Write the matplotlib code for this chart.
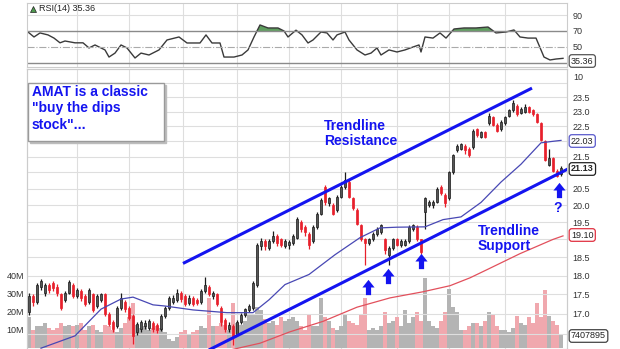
import numpy as np
import matplotlib
matplotlib.use("Agg")
import matplotlib.pyplot as plt
from matplotlib.patches import Rectangle
from matplotlib.ticker import FixedLocator, NullLocator, FuncFormatter

plt.rcParams['font.family'] = ['Liberation Sans', 'DejaVu Sans']

# daily candles (price in $), one per trading day
opens = [17.05, 17.45, 17.30, 17.70, 17.55, 17.75, 17.80, 17.70, 17.50, 17.35,
         17.55, 17.75, 17.45, 17.60, 17.45, 17.30, 17.50, 17.20, 17.35, 17.50,
         17.00, 16.80, 16.70, 17.15, 17.30, 17.15, 16.95, 16.55, 16.62, 16.70,
         16.65, 16.78, 16.72, 16.62, 16.95, 17.15, 17.30, 17.35, 17.55, 17.45,
         17.28, 17.40, 17.35, 17.30, 17.60, 17.70, 17.45, 17.50, 17.15, 16.85,
         16.62, 16.70, 16.50, 16.80, 16.98, 17.10, 17.15, 17.75, 18.80, 18.95,
         18.75, 18.95, 19.10, 19.00, 18.82, 18.85, 18.90, 19.05, 19.50, 19.35,
         19.15, 18.95, 19.35, 19.75, 20.55, 20.05, 20.00, 19.85, 20.25, 20.55,
         20.70, 20.20, 19.85, 19.40, 19.00, 18.90, 19.00, 19.15, 19.20, 19.00,
         18.55, 18.75, 19.00, 18.85, 18.85, 18.95, 19.30, 19.35, 19.00, 19.80,
         20.00, 20.00, 20.10, 20.55, 20.30, 20.20, 21.00, 21.70, 21.75, 21.85,
         21.75, 21.80, 22.40, 22.15, 22.30, 22.60, 22.80, 22.55, 22.40, 22.60,
         22.85, 23.05, 23.20, 22.95, 23.00, 23.15, 23.05, 22.90, 22.60, 22.00,
         21.25, 21.45, 21.05, 20.95]
closes = [17.45, 17.30, 17.75, 17.85, 17.75, 17.62, 17.68, 17.55, 17.15, 17.55,
          17.82, 17.45, 17.62, 17.40, 17.25, 17.62, 17.10, 17.45, 17.50, 17.00,
          16.75, 16.62, 17.15, 17.40, 17.12, 16.90, 16.45, 16.75, 16.80, 16.78,
          16.82, 16.62, 16.60, 16.95, 17.15, 17.40, 17.42, 17.55, 17.38, 17.25,
          17.42, 17.25, 17.28, 17.60, 17.75, 17.50, 17.55, 17.25, 16.80, 16.62,
          16.72, 16.45, 16.80, 16.98, 17.12, 17.20, 17.80, 18.85, 18.95, 18.80,
          18.95, 19.10, 18.90, 18.85, 18.95, 18.92, 19.10, 19.60, 19.30, 19.20,
          18.85, 19.35, 19.75, 20.15, 20.10, 20.20, 19.75, 20.25, 20.55, 20.75,
          20.25, 19.90, 19.45, 19.00, 18.90, 19.00, 19.15, 19.30, 19.40, 18.70,
          18.75, 19.00, 18.85, 18.95, 18.95, 19.35, 19.40, 19.00, 18.65, 20.20,
          20.10, 20.10, 20.50, 20.35, 20.05, 21.00, 21.55, 21.85, 21.90, 21.70,
          21.55, 22.35, 22.20, 22.30, 22.15, 22.85, 22.55, 22.35, 22.65, 22.80,
          23.05, 23.30, 22.90, 23.10, 23.15, 23.00, 22.90, 22.65, 22.05, 21.40,
          21.45, 21.05, 20.90, 21.13]
highs = [17.55, 17.50, 17.80, 17.92, 17.80, 17.80, 17.85, 17.78, 17.55, 17.60,
         17.88, 17.80, 17.68, 17.65, 17.50, 17.68, 17.55, 17.50, 17.55, 17.55,
         17.05, 16.85, 17.20, 17.55, 17.35, 17.20, 17.00, 16.80, 16.85, 16.85,
         16.88, 16.82, 16.78, 17.00, 17.20, 17.45, 17.48, 17.65, 17.60, 17.50,
         17.48, 17.45, 17.42, 17.65, 17.95, 17.75, 17.60, 17.55, 17.20, 16.90,
         16.80, 16.75, 16.85, 17.02, 17.15, 17.25, 17.85, 18.90, 19.05, 19.00,
         19.00, 19.25, 19.15, 19.05, 19.00, 18.98, 19.15, 19.65, 19.55, 19.40,
         19.20, 19.40, 19.80, 20.20, 20.60, 20.25, 20.05, 20.30, 20.60, 21.00,
         20.75, 20.25, 19.90, 19.45, 19.05, 19.05, 19.20, 19.35, 19.45, 19.05,
         18.80, 19.05, 19.05, 19.00, 19.00, 19.40, 19.45, 19.40, 19.02, 20.25,
         20.15, 20.15, 20.55, 20.60, 20.35, 21.05, 21.60, 21.90, 21.95, 21.90,
         21.80, 22.40, 22.45, 22.35, 22.35, 22.95, 22.85, 22.60, 22.70, 22.85,
         23.10, 23.40, 23.25, 23.15, 23.25, 23.20, 23.10, 22.95, 22.65, 22.05,
         21.75, 21.50, 21.10, 21.20]
lows = [16.98, 17.20, 17.25, 17.62, 17.45, 17.55, 17.60, 17.45, 17.10, 17.30,
        17.50, 17.40, 17.40, 17.32, 17.20, 17.25, 17.05, 17.15, 17.30, 16.95,
        16.70, 16.55, 16.65, 17.10, 17.05, 16.85, 16.25, 16.48, 16.55, 16.62,
        16.60, 16.55, 16.52, 16.58, 16.90, 17.10, 17.25, 17.30, 17.30, 17.20,
        17.22, 17.20, 17.22, 17.25, 17.55, 17.45, 17.38, 17.20, 16.70, 16.55,
        16.55, 16.22, 16.45, 16.75, 16.92, 17.05, 17.10, 17.70, 18.70, 18.70,
        18.70, 18.90, 18.82, 18.78, 18.75, 18.72, 18.85, 19.00, 19.20, 19.10,
        18.72, 18.90, 19.30, 19.70, 20.00, 19.98, 19.70, 19.80, 20.20, 20.50,
        20.20, 19.85, 19.40, 18.95, 18.30, 18.85, 18.95, 19.10, 19.15, 18.60,
        18.30, 18.70, 18.80, 18.78, 18.80, 18.90, 19.25, 18.95, 18.60, 19.30,
        19.95, 19.92, 20.05, 20.30, 19.95, 20.15, 20.95, 21.65, 21.70, 21.60,
        21.50, 21.75, 22.15, 22.10, 22.10, 22.55, 22.50, 22.30, 22.35, 22.55,
        22.80, 23.00, 22.85, 22.90, 22.95, 22.95, 22.85, 22.60, 22.00, 21.35,
        21.20, 21.00, 20.85, 20.90]
# volume in millions of shares
volumes = [17, 10, 12, 12, 14, 11, 10, 11, 14, 12,
           13, 12, 13, 14, 10, 12, 13, 10, 9, 13,
           12, 10, 9, 11, 14, 17, 25, 13, 11, 12,
           10, 11, 12, 11, 9, 5, 4, 6, 9, 10,
           8, 9, 10, 12, 11, 28, 12, 12, 14, 13,
           10, 25, 14, 13, 15, 19, 19, 23, 21, 16,
           14, 15, 13, 17, 15, 16, 17, 15, 12, 10,
           19, 12, 12, 28, 17, 15, 11, 10, 12, 19,
           15, 14, 13, 19, 28, 10, 11, 10, 12, 20,
           14, 15, 17, 12, 21, 14, 17, 20, 15, 39,
           15, 12, 11, 15, 20, 33, 23, 20, 10, 10,
           12, 14, 14, 12, 15, 20, 19, 12, 10, 10,
           9, 11, 18, 14, 13, 17, 14, 25, 17, 32,
           18, 15, 13, 7.4]

# moving averages (day index, price)
ma50_idx = [3, 11.5, 18, 23, 26, 31, 34, 41, 49.5, 56, 60, 64, 70, 76.5, 82.75,
            87.75, 92, 99, 103.5, 108, 113, 118, 123, 128, 131, 133]
ma50_val = [16.15, 16.45, 17.12, 17.38, 17.43, 17.23, 17.2, 17.1, 17.03, 17.03,
            17.36, 17.76, 18.03, 18.57, 19.05, 19.33, 19.35, 19.36, 19.57, 19.65,
            20.08, 20.7, 21.26, 21.95, 22.0, 22.03]
ma200_idx = [50, 57.75, 65.25, 73.5, 82, 90.25, 98.5, 105.25, 110.25, 114.5,
             122.75, 131, 133.5]
ma200_val = [16.1, 16.27, 16.55, 16.81, 17.17, 17.41, 17.57, 17.73, 17.94, 18.16,
             18.6, 19.0, 19.1]

# RSI(14)
rsi_idx = [-0.25, 1.25, 2.75, 4.75, 6.25, 7.75, 9, 11.5, 13.5, 15, 16.5, 19, 20,
           21.5, 23, 24.5, 26.5, 28, 30, 32.5, 34.5, 37.5, 39.5, 41.25, 42.75,
           44.25, 45.75, 47.75, 48.75, 51.25, 53.25, 54.75, 56.25, 57.75, 59.75,
           62.25, 63.75, 64.75, 66.75, 68.25, 69.75, 71, 73, 74.5, 76, 77, 79, 80,
           82, 84, 85.5, 87, 88, 90, 92, 94, 96, 97.5, 98, 99, 101, 102.75,
           104.25, 106.25, 108.75, 111.75, 114.75, 116.75, 119.25, 121.25,
           122.75, 124.75, 126.75, 128.75, 130.25, 131.75, 133.5]
rsi_val = [68.7, 62.4, 67.5, 65, 61, 55, 57.3, 55, 55, 48.5, 52.3, 46, 37,
           42, 52.3, 48.5, 35.8, 42, 39.6, 46, 58.6, 62.4, 54.8, 54.8, 54.8,
           65, 54.8, 54.8, 37, 37, 39.6, 46, 62.4, 77.6, 73.8,
           73.8, 70, 62.4, 71, 65, 54.8, 58.6, 68.7, 67.5, 58.6, 65, 68.7, 58.6,
           46, 39.6, 42, 48.5, 39.6, 46, 43.4, 46, 49.7, 52.3, 43.4, 62.4, 61, 67.5,
           61, 72.5, 73.8, 73.8, 75, 67.5, 68.7, 71.3,
           62.4, 61, 61, 37, 33.3, 34.5, 35.36]

month_starts = [12, 25, 38.5, 52, 65, 78, 92, 105, 119]
price_ticks = [16.5, 17.0, 17.5, 18.0, 18.5, 19.0, 19.5, 20.0, 20.5, 21.0,
               21.5, 22.0, 22.5, 23.0, 23.5, 24.0]
price_hidden = [16.5, 19.0, 21.0, 22.0, 24.0]   # covered by the value tags
vol_ticks = [10, 20, 30, 40]
rsi_ticks = [50, 70, 90]

resist_idx = [38.5, 125.75]
resist_val = [18.33, 23.82]
support_idx = [44, 134.75]
support_val = [16.06, 21.11]
arrow_idx = [84.75, 89.75, 98, 132.5]
arrow_val = [17.7, 18.0, 18.4, 20.47]

BLUE = '#1414f0'
GRID = '#dedede'
W, H = 620, 349


def frame(x0, y0, x1, y1):
    return [x0 / W, 1 - y1 / H, (x1 - x0) / W, (y1 - y0) / H]


def price_label(v, pos):
    if any(abs(v - h) < 1e-6 for h in price_hidden):
        return ''
    return f'{v:.1f}'


fig = plt.figure(figsize=(6.2, 3.49), dpi=100)
ax_rsi = fig.add_axes(frame(27, 3, 567, 67))
axv = fig.add_axes(frame(27, 69, 567, 349))
axp = axv.twinx()

n = len(closes)
idx = np.arange(n)
o = np.array(opens)
c = np.array(closes)
up = c >= o

# ---- RSI panel
rsi_i = np.array(rsi_idx)
rsi_v = np.array(rsi_val)
ax_rsi.fill_between(rsi_i, rsi_v, 70, where=rsi_v >= 70, interpolate=True,
                    color='#5f9f5f', lw=0)
ax_rsi.plot(rsi_i, rsi_v, color='#3a3a3a', lw=1.0)
ax_rsi.axhline(70, color='#8a8a8a', lw=1.0)
ax_rsi.axhline(30, color='#8a8a8a', lw=1.0)
ax_rsi.axhline(50, color='#aaaaaa', lw=0.8, ls='-.')
ax_rsi.axhline(90, color=GRID, lw=0.8)
ax_rsi.set_ylim(24.4, 105.4)
ax_rsi.set_xlim(-0.5, 134.5)
ax_rsi.set_xticks(month_starts)
ax_rsi.grid(axis='x', color=GRID, lw=0.8)
ax_rsi.set_xticklabels([])
ax_rsi.yaxis.tick_right()
ax_rsi.set_yticks(rsi_ticks)
ax_rsi.tick_params(axis='both', length=0, labelsize=6.5, labelcolor='#333333', pad=4)
for s in ax_rsi.spines.values():
    s.set_color('#cccccc')
    s.set_linewidth(0.8)
ax_rsi.text(0.022, 0.92, 'RSI(14) 35.36', transform=ax_rsi.transAxes,
            fontsize=6.5, color='#222222', va='center')
ax_rsi.plot([0.012], [0.91], transform=ax_rsi.transAxes, marker='^',
            markersize=5, color='#4f9a4f', mec='#222222', mew=0.5)

# ---- volume (left scale)
vol_cols = np.where(up, '#b4b4b4', '#f0a8ae')
axv.bar(idx, volumes, width=0.78, color=vol_cols, lw=0)
axv.set_ylim(-0.56, 155)
axv.set_xlim(-0.5, 134.5)
axv.set_yticks(vol_ticks)
axv.set_yticklabels([f'{v}M' for v in vol_ticks])
axv.set_xticks(month_starts)
axv.set_xticklabels([])
axv.grid(axis='x', color=GRID, lw=0.8)
axv.set_axisbelow(True)
axv.tick_params(axis='both', length=0, labelsize=6.5, labelcolor='#333333', pad=2)

# ---- price (right scale, log)
axp.set_yscale('log')
axp.set_ylim(16.13, 24.51)
axp.yaxis.set_major_locator(FixedLocator(price_ticks))
axp.yaxis.set_minor_locator(NullLocator())
axp.yaxis.set_major_formatter(FuncFormatter(price_label))
axp.grid(axis='y', color=GRID, lw=0.8, zorder=0)
axp.tick_params(axis='y', length=0, labelsize=6.5, labelcolor='#333333', pad=4)

body_lo = np.minimum(o, c)
body_h = np.maximum(np.abs(c - o), 0.03)
wick_cols = np.where(up, '#1a1a1a', '#e8202c')
face_cols = np.where(up, '#555555', '#e8202c')
axp.vlines(idx, lows, highs, colors=wick_cols, lw=0.9, zorder=3)
axp.bar(idx, body_h, bottom=body_lo, width=0.65, color=face_cols,
        edgecolor=wick_cols, lw=0.5, zorder=4)

axp.plot(ma50_idx, ma50_val, color='#4848b4', lw=0.9, zorder=5)
axp.plot(ma200_idx, ma200_val, color='#e2505c', lw=0.9, zorder=5)
axp.plot(resist_idx, resist_val, color=BLUE, lw=2.2, zorder=6, solid_capstyle='butt')
axp.plot(support_idx, support_val, color=BLUE, lw=2.2, zorder=6, solid_capstyle='butt')

arrow_shape = [(-0.17, -0.5), (0.17, -0.5), (0.17, 0.0), (0.4, 0.0), (0.0, 0.5),
               (-0.4, 0.0), (-0.17, 0.0), (-0.17, -0.5)]
axp.plot(arrow_idx, arrow_val, ls='none', marker=arrow_shape, markersize=11,
         color=BLUE, mew=0, zorder=7)

for a in (axv, axp):
    for s in a.spines.values():
        s.set_color('#cccccc')
        s.set_linewidth(0.8)

# ---- annotations
fig.patches.append(Rectangle((30 / W, 1 - 143 / H), 136 / W, 58 / H,
                             transform=fig.transFigure, color='#bdbdbd', zorder=8))
fig.patches.append(Rectangle((28 / W, 1 - 141 / H), 136 / W, 58 / H,
                             transform=fig.transFigure, facecolor='white',
                             edgecolor='#9a9a9a', lw=1.0, zorder=9))
fig.text(32 / W, 1 - 85 / H, 'AMAT is a classic\n"buy the dips\nstock"...',
         fontsize=10, fontweight='bold', color=BLUE, va='top', ha='left',
         linespacing=1.22, zorder=10)
fig.text(324 / W, 1 - 119 / H, 'Trendline\nResistance', fontsize=10,
         fontweight='bold', color=BLUE, va='top', ha='left', linespacing=1.1)
fig.text(478 / W, 1 - 224 / H, 'Trendline\nSupport', fontsize=10,
         fontweight='bold', color=BLUE, va='top', ha='left', linespacing=1.1)
fig.text(558 / W, 1 - 208 / H, '?', fontsize=10, fontweight='bold', color=BLUE,
         va='center', ha='center')


def tag(y, label, edge, bold=False):
    fig.text(571 / W, 1 - y / H, label, fontsize=6.5, color='#222222',
             fontweight='bold' if bold else 'normal', va='center', ha='left',
             bbox=dict(boxstyle='round,pad=0.2,rounding_size=0.3', fc='white',
                       ec=edge, lw=0.9), zorder=12)


tag(61, '35.36', '#555555')
tag(141, '22.03', '#5a5acc')
tag(169, '21.13', '#222222', bold=True)
tag(235, '19.10', '#e03040')
tag(336, '7407895', '#444444')
fig.text(573 / W, 1 - 77 / H, '10', fontsize=6.5, color='#333333', va='center')

fig.savefig('out.png', dpi=100)
